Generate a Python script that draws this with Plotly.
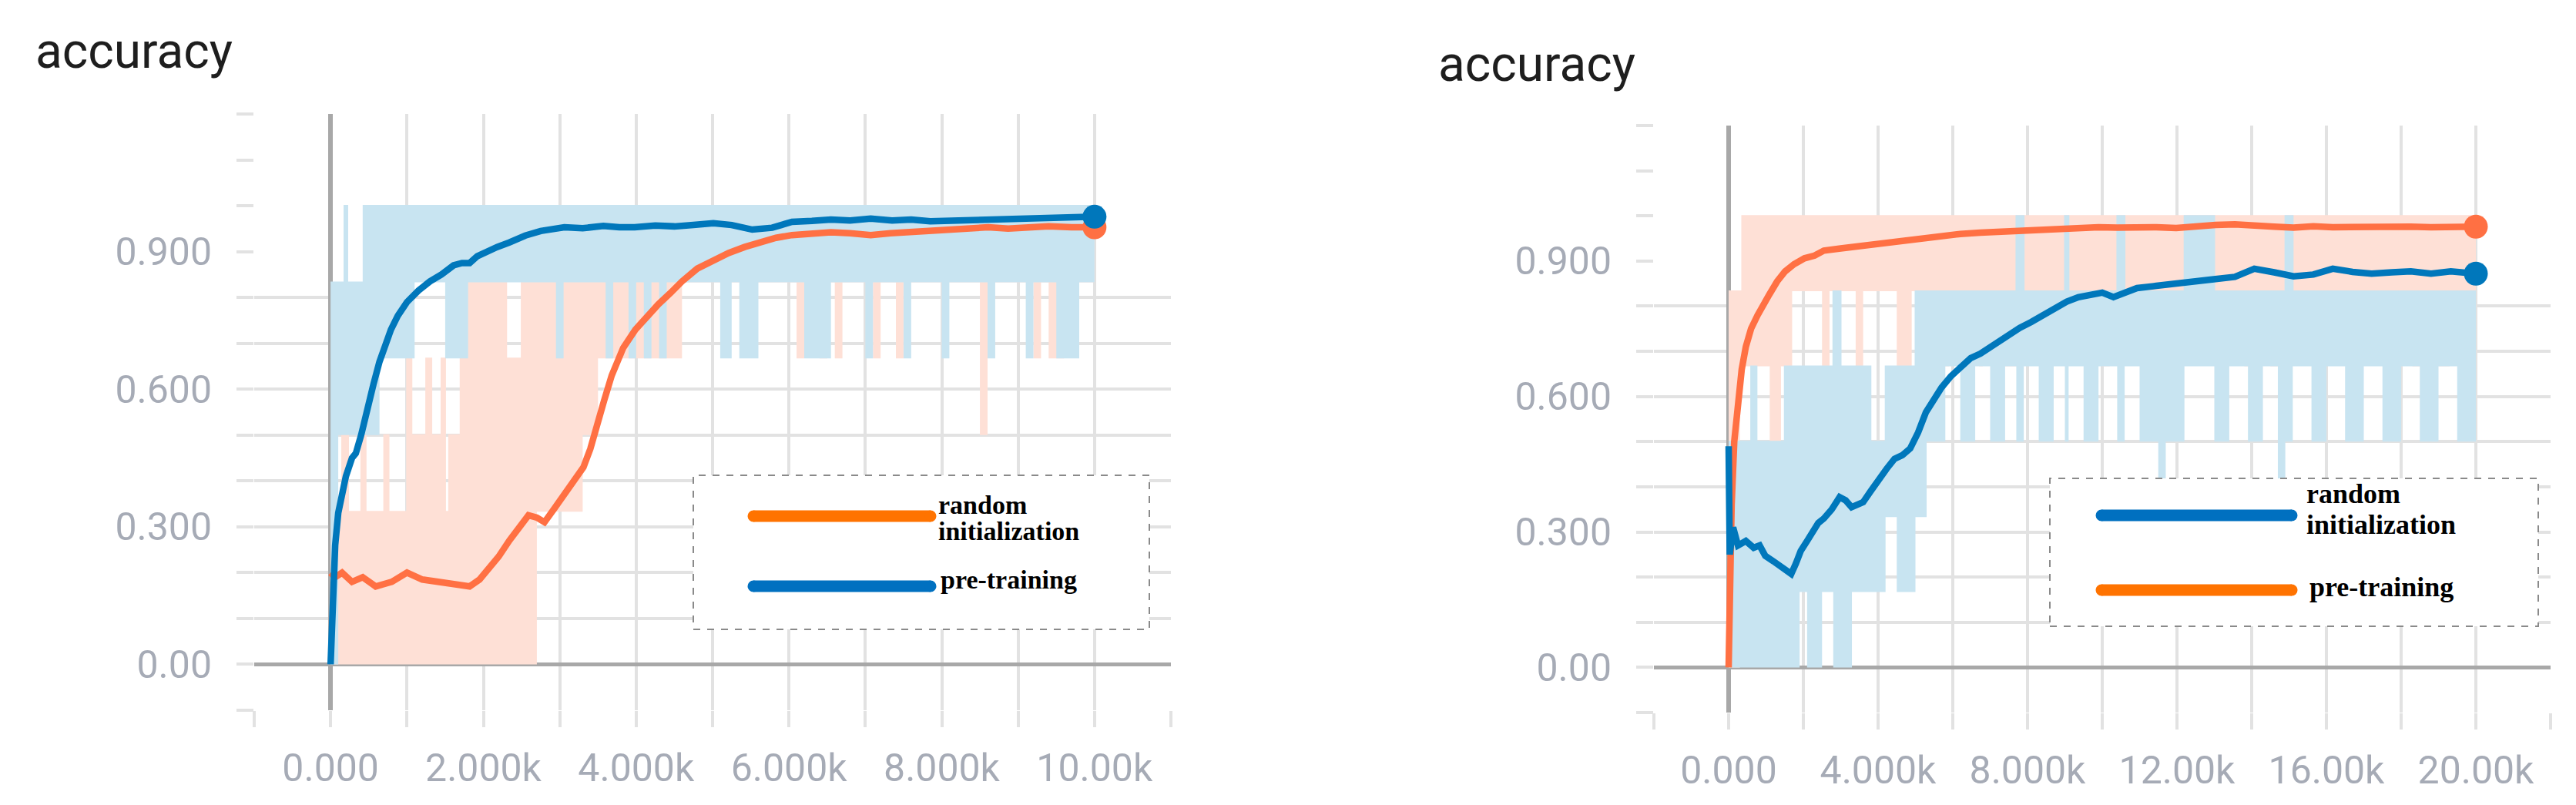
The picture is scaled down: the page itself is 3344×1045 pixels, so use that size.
import plotly.graph_objects as go

# ---------------- tick / grid definitions ----------------
left_xtick_vals = [-1000, 0, 1000, 2000, 3000, 4000, 5000, 6000, 7000, 8000, 9000, 10000, 11000]
left_xtick_text = ['', '0.000', '', '2.000k', '', '4.000k', '', '6.000k', '', '8.000k', '', '10.00k', '']
right_xtick_vals = [-2000, 0, 2000, 4000, 6000, 8000, 10000, 12000, 14000, 16000, 18000, 20000, 22000]
right_xtick_text = ['', '0.000', '', '4.000k', '', '8.000k', '', '12.00k', '', '16.00k', '', '20.00k', '']
y_tick_vals = [-0.1, 0.0, 0.1, 0.2, 0.3, 0.4, 0.5, 0.6, 0.7, 0.8, 0.9, 1.0, 1.1, 1.2]
y_tick_text = ['', '0.00', '', '', '0.300', '', '', '0.600', '', '', '0.900', '', '', '']
y_grid_vals = [-0.1, 0.0, 0.1, 0.2, 0.3, 0.4, 0.5, 0.6, 0.7, 0.8]

# ---------------- left chart: smoothed curves ----------------
L_pre_x = [0, 30, 60, 100, 150, 200, 280, 330, 400, 480, 560, 640, 720, 790, 880, 1000, 1150, 1300, 1450,
           1610, 1720, 1820, 1920, 2030, 2180, 2340, 2550, 2750, 2900, 3060, 3300, 3570, 3780, 3980, 4250,
           4500, 4750, 5010, 5250, 5520, 5780, 6040, 6300, 6550, 6800, 7070, 7350, 7600, 7850, 8100, 8350,
           8600, 8850, 9130, 9400, 9700, 10000]
L_pre_y = [0.0, 0.15, 0.26, 0.33, 0.38, 0.41, 0.45, 0.46, 0.50, 0.56, 0.61, 0.66, 0.70, 0.73, 0.76, 0.79,
           0.815, 0.835, 0.85, 0.87, 0.875, 0.875, 0.89, 0.90, 0.91, 0.92, 0.935, 0.945, 0.948, 0.953, 0.951,
           0.956, 0.953, 0.953, 0.957, 0.955, 0.958, 0.962, 0.958, 0.948, 0.952, 0.965, 0.967, 0.97, 0.968,
           0.972, 0.968, 0.97, 0.966, 0.967, 0.97, 0.972, 0.97, 0.973, 0.972, 0.974, 0.976]
L_rnd_x = [0, 60, 150, 280, 420, 590, 800, 1000, 1200, 1410, 1600, 1820, 1950, 2030, 2200, 2340, 2470, 2590,
           2700, 2800, 2930, 3060, 3200, 3310, 3400, 3470, 3580, 3680, 3830, 3990, 4140, 4290, 4450, 4600,
           4800, 5000, 5210, 5420, 5620, 5830, 6040, 6300, 6550, 6800, 7070, 7330, 7580, 7850, 8100, 8350,
           8610, 8870, 9130, 9400, 9700, 10000]
L_rnd_y = [0.20, 0.19, 0.20, 0.18, 0.19, 0.17, 0.18, 0.20, 0.185, 0.18, 0.175, 0.17, 0.185, 0.20, 0.235,
           0.27, 0.30, 0.325, 0.32, 0.31, 0.34, 0.37, 0.40, 0.43, 0.47, 0.515, 0.575, 0.63, 0.69, 0.73,
           0.76, 0.785, 0.81, 0.835, 0.863, 0.88, 0.897, 0.91, 0.92, 0.93, 0.936, 0.94, 0.942, 0.94, 0.936,
           0.94, 0.942, 0.944, 0.947, 0.95, 0.953, 0.95, 0.953, 0.955, 0.953, 0.953]

# ---------------- left chart: raw (unsmoothed) envelopes: (step, low, high) ----------------
L_pre_raw = [(0, 0.0, 0.833), (100, 0.5, 0.833), (180, 0.5, 1.0), (220, 0.5, 0.833), (430, 0.5, 1.0),
             (640, 0.667, 1.0), (1100, 0.833, 1.0), (1500, 0.667, 1.0), (1800, 0.833, 1.0),
             (2950, 0.667, 1.0), (3050, 0.833, 1.0), (3600, 0.667, 1.0), (3700, 0.833, 1.0),
             (3900, 0.667, 1.0), (4000, 0.833, 1.0), (4100, 0.667, 1.0), (4200, 0.833, 1.0),
             (4300, 0.667, 1.0), (4400, 0.833, 1.0), (5100, 0.667, 1.0), (5250, 0.833, 1.0),
             (5350, 0.667, 1.0), (5600, 0.833, 1.0), (6200, 0.667, 1.0), (6550, 0.833, 1.0),
             (7000, 0.667, 1.0), (7100, 0.833, 1.0), (7500, 0.667, 1.0), (7600, 0.833, 1.0),
             (8000, 0.667, 1.0), (8100, 0.833, 1.0), (8600, 0.667, 1.0), (8700, 0.833, 1.0),
             (9100, 0.667, 1.0), (9200, 0.833, 1.0), (9500, 0.667, 1.0), (9800, 0.833, 1.0),
             (10000, 0.833, 1.0)]
L_rnd_raw = [(0, 0.0, 0.333), (150, 0.0, 0.5), (230, 0.0, 0.333), (400, 0.0, 0.5), (460, 0.0, 0.333),
             (700, 0.0, 0.5), (760, 0.0, 0.333), (1000, 0.0, 0.667), (1060, 0.0, 0.5), (1250, 0.0, 0.667),
             (1320, 0.0, 0.5), (1450, 0.0, 0.667), (1500, 0.0, 0.333), (1550, 0.0, 0.5),
             (1700, 0.0, 0.667), (1800, 0.0, 0.833), (2000, 0.0, 0.833), (2300, 0.0, 0.667),
             (2500, 0.0, 0.833), (2700, 0.333, 0.833), (3300, 0.5, 0.833), (3500, 0.667, 1.0),
             (4600, 0.833, 1.0), (6100, 0.667, 1.0), (6200, 0.833, 1.0), (6400, 0.667, 1.0),
             (6500, 0.833, 1.0), (6600, 0.667, 1.0), (6700, 0.833, 1.0), (7100, 0.667, 1.0),
             (7200, 0.833, 1.0), (7400, 0.667, 1.0), (7500, 0.833, 1.0), (8500, 0.5, 1.0),
             (8600, 0.833, 1.0), (9200, 0.667, 1.0), (9300, 0.833, 1.0), (9400, 0.667, 1.0),
             (9600, 0.833, 1.0), (10000, 0.833, 1.0)]

# ---------------- right chart: smoothed curves ----------------
R_pre_x = [0, 40, 80, 150, 250, 350, 460, 600, 775, 930, 1090, 1300, 1510, 1750, 2030, 2300, 2550, 3000,
           3600, 4100, 4650, 5200, 5700, 6200, 6740, 7300, 7790, 8300, 8840, 9400, 9900, 10400, 10930,
           11450, 11980, 12500, 13030, 13550, 14070, 14600, 15120, 15650, 16170, 16700, 17210, 17750,
           18260, 18800, 19330, 20000]
R_pre_y = [0.0, 0.22, 0.36, 0.50, 0.60, 0.66, 0.71, 0.75, 0.78, 0.805, 0.826, 0.855, 0.877, 0.893, 0.906,
           0.912, 0.923, 0.928, 0.934, 0.94, 0.945, 0.95, 0.957, 0.96, 0.963, 0.965, 0.968, 0.972, 0.972,
           0.973, 0.975, 0.974, 0.976, 0.975, 0.973, 0.978, 0.98, 0.981, 0.98, 0.976, 0.974, 0.977, 0.975,
           0.976, 0.974, 0.975, 0.976, 0.975, 0.976, 0.976]
R_rnd_x = [0, 30, 120, 250, 460, 670, 830, 980, 1200, 1400, 1550, 1675, 1800, 1930, 2100, 2240, 2400, 2550,
           2760, 2970, 3130, 3290, 3450, 3600, 3800, 4020, 4230, 4440, 4650, 4860, 5070, 5280, 5500, 5700,
           5950, 6220, 6480, 6740, 7000, 7270, 7530, 7790, 8100, 8420, 8730, 9050, 9360, 9680, 10000,
           10300, 10600, 10930, 11450, 11980, 12500, 13030, 13550, 14070, 14600, 15120, 15650, 16170,
           16700, 17210, 17750, 18260, 18800, 19330, 20000]
R_rnd_y = [0.49, 0.25, 0.31, 0.27, 0.28, 0.265, 0.27, 0.247, 0.235, 0.224, 0.215, 0.207, 0.23, 0.258, 0.28,
           0.30, 0.32, 0.33, 0.35, 0.377, 0.37, 0.355, 0.36, 0.366, 0.39, 0.417, 0.44, 0.462, 0.47, 0.485,
           0.52, 0.565, 0.595, 0.62, 0.645, 0.667, 0.685, 0.695, 0.71, 0.724, 0.74, 0.752, 0.765, 0.78,
           0.795, 0.81, 0.82, 0.826, 0.83, 0.82, 0.83, 0.84, 0.845, 0.849, 0.855, 0.86, 0.865, 0.883, 0.875,
           0.866, 0.87, 0.883, 0.876, 0.872, 0.875, 0.877, 0.872, 0.877, 0.872]

# ---------------- right chart: raw envelopes: (step, low, high) ----------------
R_pre_raw = [(0, 0.0, 0.833), (300, 0.667, 0.833), (360, 0.667, 1.0), (1100, 0.5, 1.0), (1400, 0.667, 1.0),
             (1700, 0.833, 1.0), (2500, 0.667, 1.0), (2700, 0.833, 1.0), (3400, 0.667, 1.0),
             (3600, 0.833, 1.0), (4500, 0.667, 1.0), (4900, 0.833, 1.0), (5700, 0.667, 1.0),
             (5900, 0.833, 1.0), (6700, 0.667, 1.0), (6800, 0.833, 1.0), (7300, 0.667, 1.0),
             (7900, 0.833, 1.0), (10000, 0.667, 1.0), (10200, 0.833, 1.0), (13800, 0.667, 1.0),
             (14200, 0.833, 1.0), (14500, 0.667, 1.0), (14900, 0.833, 1.0), (17500, 0.667, 1.0),
             (17900, 0.833, 1.0), (18300, 0.667, 1.0), (18700, 0.833, 1.0), (19000, 0.667, 1.0),
             (19300, 0.833, 1.0), (20000, 0.833, 1.0)]
R_rnd_raw = [(0, 0.0, 0.5), (600, 0.0, 0.667), (750, 0.0, 0.5), (1500, 0.0, 0.667), (1900, 0.167, 0.667),
             (2100, 0.0, 0.667), (2500, 0.167, 0.667), (2800, 0.0, 0.833), (3000, 0.0, 0.667),
             (3300, 0.167, 0.667), (3800, 0.167, 0.5), (4200, 0.333, 0.667), (4500, 0.167, 0.667),
             (5000, 0.333, 0.833), (5300, 0.5, 0.833), (5800, 0.667, 0.833), (6200, 0.5, 0.833),
             (6600, 0.667, 0.833), (7000, 0.5, 0.833), (7400, 0.667, 0.833), (7700, 0.5, 1.0),
             (7900, 0.667, 0.833), (8300, 0.5, 0.833), (8700, 0.667, 0.833), (9000, 0.5, 1.0),
             (9100, 0.667, 0.833), (9500, 0.5, 0.833), (9900, 0.667, 0.833), (10400, 0.5, 1.0),
             (10600, 0.667, 0.833), (11000, 0.5, 0.833), (11500, 0.417, 0.833), (11700, 0.5, 0.833),
             (12200, 0.667, 1.0), (13000, 0.5, 0.833), (13400, 0.667, 0.833), (13900, 0.5, 0.833),
             (14300, 0.667, 0.833), (14700, 0.417, 0.833), (14900, 0.5, 1.0), (15100, 0.667, 0.833),
             (15600, 0.5, 0.833), (16000, 0.667, 0.833), (16500, 0.5, 0.833), (17000, 0.667, 0.833),
             (17500, 0.5, 0.833), (18000, 0.667, 0.833), (18500, 0.5, 0.833), (19000, 0.667, 0.833),
             (19500, 0.5, 0.833), (20000, 0.5, 0.833)]

# ---------------- styles ----------------
ORANGE = '#ff7043'
BLUE = '#0077bb'
ORANGE_RAW = '#fee0d6'
BLUE_RAW = '#c8e4f1'
LEG_ORANGE = '#ff7300'
LEG_BLUE = '#0070c0'
GRID = '#e2e2e2'
ZERO = '#a8a8a8'
LABEL = '#a6abb6'

fig = go.Figure()


def add_band(raw, color, xa, ya):
    xs = [r[0] for r in raw]
    lo = [r[1] for r in raw]
    hi = [r[2] for r in raw]
    fig.add_trace(go.Scatter(x=xs, y=lo, xaxis=xa, yaxis=ya, mode='lines', line=dict(width=0, shape='hv'),
                             showlegend=False, hoverinfo='skip'))
    fig.add_trace(go.Scatter(x=xs, y=hi, xaxis=xa, yaxis=ya, mode='lines',
                             line=dict(width=2, shape='hv', color=color), fill='tonexty',
                             fillcolor=color, showlegend=False, hoverinfo='skip'))


def add_curve(x, y, color, xa, ya, name):
    fig.add_trace(go.Scatter(x=x, y=y, xaxis=xa, yaxis=ya, mode='lines', name=name,
                             line=dict(width=8.5, color=color), showlegend=False))


def add_end(x, y, color, xa, ya):
    fig.add_trace(go.Scatter(x=[x[-1]], y=[y[-1]], xaxis=xa, yaxis=ya, mode='markers',
                             marker=dict(size=31, color=color), showlegend=False, hoverinfo='skip'))


# left chart
add_band(L_rnd_raw, ORANGE_RAW, 'x', 'y')
add_band(L_pre_raw, BLUE_RAW, 'x', 'y')
add_curve(L_rnd_x, L_rnd_y, ORANGE, 'x', 'y', 'random initialization')
add_curve(L_pre_x, L_pre_y, BLUE, 'x', 'y', 'pre-training')
add_end(L_rnd_x, L_rnd_y, ORANGE, 'x', 'y')
add_end(L_pre_x, L_pre_y, BLUE, 'x', 'y')

# right chart
add_band(R_pre_raw, ORANGE_RAW, 'x2', 'y2')
add_band(R_rnd_raw, BLUE_RAW, 'x2', 'y2')
add_curve(R_pre_x, R_pre_y, ORANGE, 'x2', 'y2', 'pre-training')
add_curve(R_rnd_x, R_rnd_y, BLUE, 'x2', 'y2', 'random initialization')
add_end(R_pre_x, R_pre_y, ORANGE, 'x2', 'y2')
add_end(R_rnd_x, R_rnd_y, BLUE, 'x2', 'y2')

# empty traces so the overlaid label axes (y3, y4) are rendered
fig.add_trace(go.Scatter(x=[None], y=[None], xaxis='x', yaxis='y3', showlegend=False, hoverinfo='skip'))
fig.add_trace(go.Scatter(x=[None], y=[None], xaxis='x2', yaxis='y4', showlegend=False, hoverinfo='skip'))

W, H = 3344, 1045
tickfont = dict(family='Roboto', size=50, color=LABEL)


def xaxis_cfg(domain, rng, vals, text, anchor):
    return dict(domain=domain, range=rng, anchor=anchor, tickmode='array', tickvals=vals, ticktext=text,
                showgrid=True, gridcolor=GRID, gridwidth=4, zeroline=True, zerolinecolor=ZERO,
                zerolinewidth=6, ticks='outside', ticklen=21, tickwidth=4, tickcolor=GRID,
                tickfont=tickfont, ticklabelstandoff=10, showline=False, fixedrange=True)


def ygrid_cfg(domain, anchor):
    return dict(domain=domain, range=[-0.1, 1.2], anchor=anchor, tickmode='array', tickvals=y_grid_vals,
                showticklabels=False, ticks='', showgrid=True, gridcolor=GRID, gridwidth=4, zeroline=True,
                zerolinecolor=ZERO, zerolinewidth=5, showline=False, fixedrange=True)


def ylab_cfg(over, anchor):
    return dict(overlaying=over, range=[-0.1, 1.2], anchor=anchor, side='left', tickmode='array',
                tickvals=y_tick_vals, ticktext=y_tick_text, showgrid=False, zeroline=False,
                ticks='outside', ticklen=22, tickwidth=4, tickcolor=GRID, tickfont=tickfont,
                ticklabelstandoff=22, showline=False, fixedrange=True)


left_xdom = [322 / W, 1512 / W]
right_xdom = [2139 / W, 3303 / W]
left_ydom = [1 - 914 / H, 1 - 140 / H]
right_ydom = [1 - 917 / H, 1 - 155 / H]

fig.update_layout(
    width=W, height=H, autosize=False,
    margin=dict(l=0, r=0, t=0, b=0),
    paper_bgcolor='white', plot_bgcolor='white',
    showlegend=False,
    xaxis=xaxis_cfg(left_xdom, [-1000, 11000], left_xtick_vals, left_xtick_text, 'y'),
    yaxis=ygrid_cfg(left_ydom, 'x'),
    yaxis3=ylab_cfg('y', 'x'),
    xaxis2=xaxis_cfg(right_xdom, [-2000, 22000], right_xtick_vals, right_xtick_text, 'y2'),
    yaxis2=ygrid_cfg(right_ydom, 'x2'),
    yaxis4=ylab_cfg('y2', 'x2'),
)

# titles
title_font = dict(family='Roboto', size=64, color='#1e1e1e')
fig.add_annotation(text='accuracy', xref='paper', yref='paper', x=36 / W, y=1 - 58 / H,
                   xanchor='left', yanchor='middle', showarrow=False, font=title_font)
fig.add_annotation(text='accuracy', xref='paper', yref='paper', x=1857 / W, y=1 - 75 / H,
                   xanchor='left', yanchor='middle', showarrow=False, font=title_font)


# legends (drawn boxes, like the pasted legends in the reference)
def legend_box(x0, x1, y0, y1, items, text_size):
    fig.add_shape(type='rect', xref='paper', yref='paper', x0=x0 / W, x1=x1 / W, y0=1 - y1 / H, y1=1 - y0 / H,
                  line=dict(color='#8a8a8a', width=2, dash='dash'), fillcolor='white', layer='above')
    for (lx0, lx1, ly, color, labels) in items:
        fig.add_shape(type='line', xref='paper', yref='paper', x0=lx0 / W, x1=lx1 / W, y0=1 - ly / H,
                      y1=1 - ly / H, line=dict(color=color, width=15), layer='above')
        for cx in (lx0, lx1):
            fig.add_shape(type='circle', xref='paper', yref='paper', xsizemode='pixel', ysizemode='pixel',
                          xanchor=cx / W, yanchor=1 - ly / H, x0=-7.5, x1=7.5, y0=-7.5, y1=7.5,
                          line=dict(width=0), fillcolor=color, layer='above')
        for (tx, ty, t) in labels:
            fig.add_annotation(text='<b>' + t + '</b>', xref='paper', yref='paper', x=tx / W, y=1 - ty / H,
                               xanchor='left', yanchor='middle', showarrow=False,
                               font=dict(family='Liberation Serif', size=text_size, color='black'))


legend_box(892, 1484, 609, 809, [
    (970, 1200, 662, LEG_ORANGE, [(1208, 647, 'random'), (1208, 681, 'initialization')]),
    (970, 1200, 753, LEG_BLUE, [(1211, 744, 'pre-training')]),
], 34)
legend_box(2653, 3287, 613, 805, [
    (2720, 2967, 661, LEG_BLUE, [(2984, 633, 'random'), (2984, 673, 'initialization')]),
    (2720, 2967, 758, LEG_ORANGE, [(2988, 754, 'pre-training')]),
], 36)

fig.write_html('out.html')
